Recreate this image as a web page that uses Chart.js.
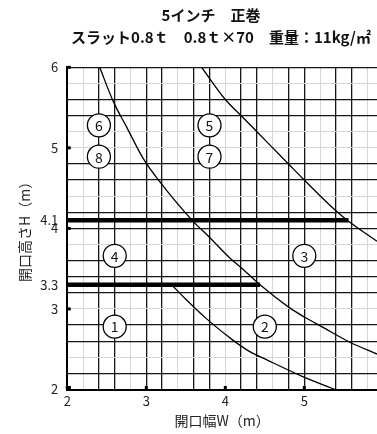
<!DOCTYPE html>
<html><head><meta charset="utf-8">
<script src="https://cdn.jsdelivr.net/npm/chart.js@4"></script>
<style>html,body{margin:0;padding:0;background:#fff;overflow:hidden}#wrap{width:377px;height:434px;position:relative}</style>
</head><body><div id="wrap"><canvas id="c"></canvas></div>
<script>
const titleText = '5インチ　正巻';
const subtitleText = 'スラット0.8ｔ　0.8ｔ×70　重量：11kg/㎡';
const xAxisTitle = '開口幅W（m）';
const yAxisTitle = '開口高さH（m）';

const xTickLabels = [2, 3, 4, 5];
const yTickLabels = [2, 3, 4, 5, 6];
const xDarkGrid = [2.4, 2.6, 3.0, 3.2, 3.6, 3.8, 4.2, 4.4, 4.8, 5.0, 5.4, 5.6];
const xLightGrid = [2.2, 2.8, 3.4, 4.0, 4.6, 5.2, 5.8];
const yDarkGrid = [2.2, 2.6, 2.8, 3.2, 3.4, 3.6, 4.0, 4.2, 4.6, 4.8, 5.4, 5.6, 6.0];
const yLightGrid = [2.4, 3.0, 3.8, 4.4, 5.0, 5.2, 5.8];

const refHeights = [3.3, 4.1];
const refEndWidths = [4.44, 5.56];

const curveA_W = [3.32, 3.5, 3.76, 4.1, 4.31, 4.52, 4.98, 5.39];
const curveA_H = [3.3, 3.12, 2.88, 2.61, 2.47, 2.37, 2.16, 2.0];
const curveB_W = [2.41, 2.58, 2.75, 2.96, 3.17, 3.59, 3.79, 4.06, 4.18, 4.44, 4.82, 5.0, 5.22, 5.57, 5.92];
const curveB_H = [6.0, 5.58, 5.26, 4.87, 4.58, 4.09, 3.9, 3.63, 3.53, 3.3, 3.01, 2.9, 2.78, 2.59, 2.44];
const curveC_W = [3.7, 4.0, 4.21, 4.4, 4.8, 5.0, 5.41, 5.56, 5.92];
const curveC_H = [6.0, 5.6, 5.39, 5.2, 4.8, 4.6, 4.21, 4.09, 3.84];

const zoneLabels = ['1', '2', '3', '4', '5', '6', '7', '8'];
const zoneW = [2.6, 4.5, 5.0, 2.6, 3.8, 2.4, 3.8, 2.4];
const zoneH = [2.78, 2.78, 3.66, 3.66, 5.28, 5.28, 4.89, 4.89];

const FONT = '"Noto Sans CJK JP", "Noto Sans", sans-serif';
const near = (arr, v) => arr.some(t => Math.abs(t - v) < 1e-6);
const pts = (ws, hs) => ws.map((w, i) => ({x: w, y: hs[i]}));
const xTickValues = [...new Set([...xTickLabels, ...xDarkGrid, ...xLightGrid])].sort((a, b) => a - b);
const yTickValues = [...new Set([...yTickLabels, ...yDarkGrid, ...yLightGrid, ...refHeights])].sort((a, b) => a - b);

function gridColor(dark, light) {
  return ctx => {
    const v = ctx.tick ? ctx.tick.value : NaN;
    if (near(dark, v)) return '#151515';
    if (near(light, v)) return '#d6d6d6';
    return 'rgba(0,0,0,0)';
  };
}
function gridWidth(dark) {
  return ctx => (ctx.tick && near(dark, ctx.tick.value)) ? 1.3 : 1;
}

const curveStyle = {borderColor: '#000', borderWidth: 1.3, pointRadius: 0, fill: false, cubicInterpolationMode: 'monotone', showLine: true};

const datasets = [
  {type: 'scatter', data: pts(zoneW, zoneH), pointRadius: 11.5, pointHoverRadius: 11.5,
   pointBackgroundColor: '#fff', pointBorderColor: '#000', pointBorderWidth: 1.3, showLine: false},
  {type: 'line', data: pts(curveA_W, curveA_H), ...curveStyle},
  {type: 'line', data: pts(curveB_W, curveB_H), ...curveStyle},
  {type: 'line', data: pts(curveC_W, curveC_H), ...curveStyle},
  ...refHeights.map((h, i) => ({type: 'line', data: [{x: xTickLabels[0], y: h}, {x: refEndWidths[i], y: h}],
    borderColor: '#000', borderWidth: 4.5, pointRadius: 0, fill: false, borderCapStyle: 'butt'}))
];

const decor = {
  id: 'decor',
  afterDatasetsDraw(chart) {
    const ctx = chart.ctx;
    const xs = chart.scales.x, ys = chart.scales.y;
    ctx.save();
    ctx.font = '14px ' + FONT;
    ctx.textAlign = 'center';
    ctx.textBaseline = 'middle';
    ctx.fillStyle = '#111';
    chart.getDatasetMeta(0).data.forEach((el, i) => ctx.fillText(zoneLabels[i], el.x, el.y + 0.5));
    ctx.fillStyle = '#000';
    yTickLabels.forEach(v => { const py = ys.getPixelForValue(v); ctx.fillRect(xs.left, py - 1.5, 3.5, 3); });
    xTickLabels.forEach(v => { const px = xs.getPixelForValue(v); ctx.fillRect(px - 1.5, ys.bottom - 3.5, 3, 3.5); });
    ctx.fillRect(xs.left - 1, ys.bottom - 3.5, 4.5, 4.5);
    ctx.restore();
  },
  afterDraw(chart) {
    const ctx = chart.ctx;
    ctx.save();
    ctx.fillStyle = '#111';
    ctx.textAlign = 'center';
    ctx.textBaseline = 'middle';
    ctx.font = 'bold 15px ' + FONT;
    ctx.fillText(titleText, 211, 15);
    ctx.fillText(subtitleText, 221, 37);
    ctx.restore();
  }
};

new Chart(document.getElementById('c'), {
  type: 'scatter',
  data: {datasets},
  plugins: [decor],
  options: {
    responsive: true, maintainAspectRatio: false, animation: false,
    layout: {autoPadding: false, padding: {top: 67.3, right: 0, bottom: 0, left: 0}},
    plugins: {legend: {display: false}, tooltip: {enabled: false}, title: {display: false}},
    scales: {
      x: {
        type: 'linear', min: 2, max: 5.92,
        afterBuildTicks: s => { s.ticks = xTickValues.map(v => ({value: v})); },
        afterFit: s => { s.height = 44.5; },
        ticks: {autoSkip: false, maxRotation: 0, padding: 4, color: '#222', font: {family: FONT, size: 13},
          callback: v => near(xTickLabels, v) ? String(v) : ''},
        grid: {color: gridColor(xDarkGrid, xLightGrid), lineWidth: gridWidth(xDarkGrid), drawTicks: false},
        border: {display: true, color: '#000', width: 2},
        title: {display: true, text: xAxisTitle, color: '#222', font: {family: FONT, size: 14}, padding: {top: 0, bottom: 5}}
      },
      y: {
        type: 'linear', min: 2, max: 6,
        afterBuildTicks: s => { s.ticks = yTickValues.map(v => ({value: v})); },
        afterFit: s => { s.width = 67.3; },
        ticks: {autoSkip: false, padding: 9, color: '#222', font: {family: FONT, size: 13},
          callback: v => near(yTickLabels, v) ? String(v) : (near(refHeights, v) ? v.toFixed(1) : '')},
        grid: {color: gridColor(yDarkGrid, yLightGrid), lineWidth: gridWidth(yDarkGrid), drawTicks: false},
        border: {display: true, color: '#000', width: 2},
        title: {display: true, text: yAxisTitle, color: '#222', font: {family: FONT, size: 14}, padding: {top: 16.6, bottom: 0}}
      }
    }
  }
});
</script></body></html>
